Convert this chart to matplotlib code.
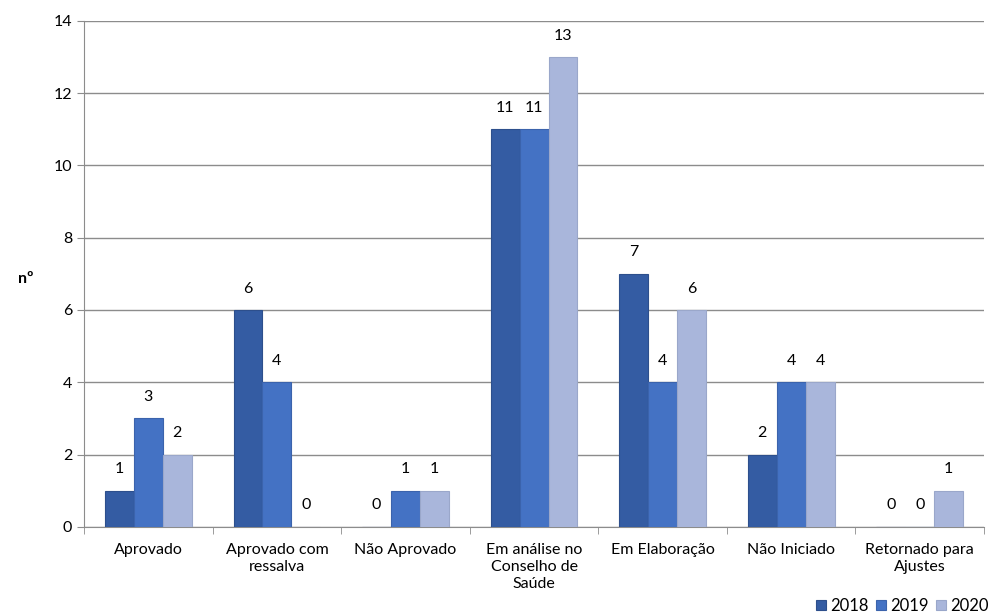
import numpy as np
import matplotlib.pyplot as plt

plt.rcParams['font.family'] = ['Lato', 'DejaVu Sans']

categories = ['Aprovado', 'Aprovado com\nressalva', 'Não Aprovado',
              'Em análise no\nConselho de\nSaúde', 'Em Elaboração',
              'Não Iniciado', 'Retornado para\nAjustes']
years = ['2018', '2019', '2020']
v2018 = [1, 6, 0, 11, 7, 2, 0]
v2019 = [3, 4, 1, 11, 4, 4, 0]
v2020 = [2, 0, 1, 13, 6, 4, 1]
colors = ['#345CA3', '#4472C4', '#A9B6DB']
edges = ['#2D4F8C', '#3B63AC', '#9AA7CA']

fig = plt.figure(figsize=(9.89, 6.14), dpi=100)
ax = fig.add_axes([0.085, 0.142, 0.91, 0.824])

x = np.arange(len(categories))
w = 0.225
for i, (vals, c, ec, yr) in enumerate(zip([v2018, v2019, v2020], colors, edges, years)):
    pos = x + (i - 1) * w
    ax.bar(pos, vals, width=w, color=c, edgecolor=ec, linewidth=0.8, label=yr, zorder=3)
    for p, v in zip(pos, vals):
        ax.text(p, v + 0.4, str(v), ha='center', va='bottom', fontsize=11.5)

ax.set_xlim(-0.5, len(categories) - 0.5)
ax.set_ylim(0, 14)
ax.set_yticks(range(0, 15, 2))
ax.yaxis.grid(True, color='#8C8C8C', linewidth=1, zorder=0)
ax.set_xticks(x)
ax.set_xticklabels(categories, fontsize=11.5, linespacing=1.25)
ax.set_xticks(np.arange(-0.5, len(categories), 1), minor=True)
ax.tick_params(axis='x', which='major', length=0, pad=12)
ax.tick_params(axis='x', which='minor', length=5, color='#8C8C8C')
ax.tick_params(axis='y', length=5, color='#8C8C8C', labelsize=11.5)
for s in ['top', 'right']:
    ax.spines[s].set_visible(False)
for s in ['left', 'bottom']:
    ax.spines[s].set_color('#8C8C8C')

fig.text(0.018, 0.545, 'nº', fontsize=11.5, fontweight='bold', ha='left', va='center')

ax.legend(loc='center right', bbox_to_anchor=(1.005, -0.156), ncol=3, frameon=False,
          fontsize=12, handlelength=0.6, handleheight=0.6, handletextpad=0.25,
          columnspacing=0.45, borderaxespad=0, borderpad=0)

fig.savefig('out.png', dpi=100)
